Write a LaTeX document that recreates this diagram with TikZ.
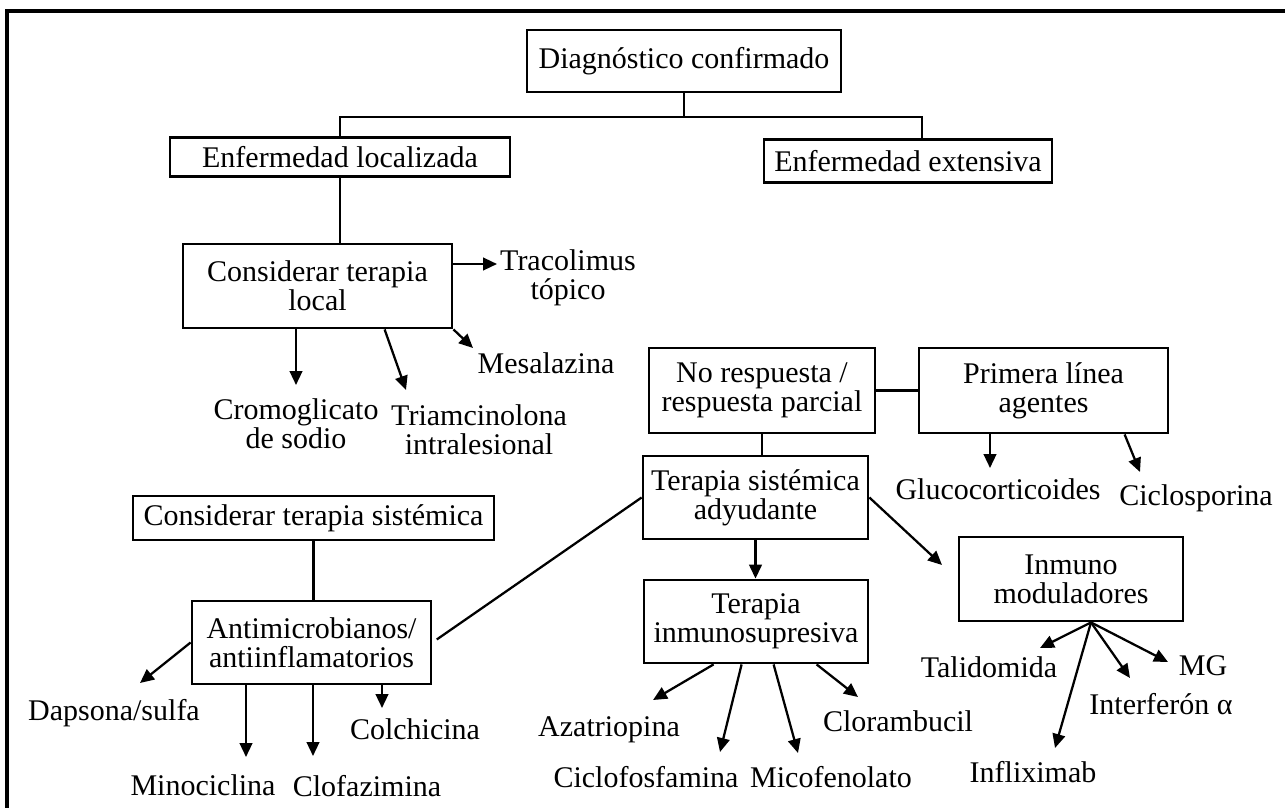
\documentclass[tikz,border=0pt]{standalone}
\usepackage{fontspec}
\setmainfont{Liberation Serif}
\usetikzlibrary{arrows.meta, positioning, calc}
\newcommand{\diagfont}{\fontsize{22.5pt}{21.5pt}\selectfont}
\tikzset{
  every picture/.style={line width=1.7pt, x=0.75pt, y=-0.75pt},
  box/.style 2 args={draw, line width=2.1pt, align=center, inner sep=0pt, font=\diagfont,
    minimum width=#1*0.75pt, minimum height=#2*0.75pt},
  lab/.style={align=center, inner sep=0pt, font=\diagfont},
  arr/.style={-{Triangle[length=10.5pt, width=9.5pt]}},
  frame/.style={line width=3pt},
}
\begin{document}
\begin{tikzpicture}
  \useasboundingbox (0,0) rectangle (1285,808);
  \coordinate (fcorner) at (7,11);
  \coordinate (fright) at (1285,11);
  \coordinate (fbottom) at (7,808);
  \draw[frame] (fright) -- (fcorner) -- (fbottom);
  % top of the tree
  \node[box={314}{62}] (diag) at (684,61) {Diagnóstico confirmado};
  \node[box={340}{39}] (loc) at (340,157) {Enfermedad localizada};
  \node[box={288}{43}] (ext) at (908,161) {Enfermedad extensiva};
  \coordinate (bus) at (684,117);
  \draw (diag.south) -- (bus);
  \draw (loc.north) |- (bus) -| ([xshift=10.5pt]ext.north);
  % local therapy
  \node[box={269}{84}] (ctl) at (317.5,286) {Considerar terapia\\local};
  \draw (loc.south) -- (loc.south |- ctl.north);
  \node[lab] (trac) at (568,278) {Tracolimus\\tópico};
  \node[lab] (mesa) at (546,363) {Mesalazina};
  \node[lab] (crom) at (296,424) {Cromoglicato\\de sodio};
  \node[lab] (tria) at (479,430) {Triamcinolona\\intralesional};
  \coordinate (tTrac) at (497,264);
  \coordinate (tMesa) at (473,348);
  \coordinate (tCrom) at (296,385);
  \coordinate (tTria) at (406,390);
  \draw[arr] (ctl.east |- tTrac) -- (tTrac);
  \draw[arr] (ctl.south east) -- (tMesa);
  \draw[arr] (ctl.south -| tCrom) -- (tCrom);
  \draw[arr] ($(ctl.south west)+(203,0)$) -- (tTria);
  % systemic therapy
  \node[box={361}{44}] (cts) at (313.5,518) {Considerar terapia sistémica};
  \draw ($(ctl.south west)+(13,0)$) -- ($(ctl.south west)+(13,0)$ |- cts.north);
  \node[box={239}{83}] (anti) at (311.5,642.5) {Antimicrobianos/\\antiinflamatorios};
  \draw (cts.south) -- (cts.south |- anti.north);
  \node[lab] (daps) at (114,713) {Dapsona/sulfa};
  \node[lab] (mino) at (203,785) {Minociclina};
  \node[lab] (clof) at (367,786) {Clofazimina};
  \node[lab] (colc) at (415,729) {Colchicina};
  \coordinate (tDaps) at (140,683);
  \coordinate (tMino) at (246,757);
  \coordinate (tClof) at (313,756);
  \coordinate (tColc) at (382,708);
  \draw[arr] (anti.west) -- (tDaps);
  \draw[arr] (anti.south -| tMino) -- (tMino);
  \draw[arr] (anti.south -| tClof) -- (tClof);
  \draw[arr] (anti.south -| tColc) -- (tColc);
  % no response branch
  \node[box={226}{85}] (nor) at (762,390.5) {No respuesta /\\respuesta parcial};
  \node[box={249}{85}] (pla) at (1043.5,390.5) {Primera línea\\agentes};
  \draw (nor.east) -- (pla.west);
  \node[lab] (gluc) at (998,489) {Glucocorticoides};
  \node[lab] (cicl) at (1196,498) {Ciclosporina};
  \coordinate (tGluc) at (990,468);
  \coordinate (tCicl) at (1140,472);
  \draw[arr] (pla.south -| tGluc) -- (tGluc);
  \draw[arr] ($(pla.south west)+(207,0)$) -- (tCicl);
  \node[box={225}{83}] (tsa) at (755.5,497.5) {Terapia sistémica\\adyudante};
  \draw (nor.south) -- (nor.south |- tsa.north);
  \draw[shorten <=4pt] (anti.east) -- (tsa.west);
  \node[box={224}{83}] (tis) at (756,621.5) {Terapia\\inmunosupresiva};
  \draw[arr] (tsa.south) -- (tsa.south |- tis.north);
  \node[box={224}{84}] (imm) at (1071,579) {Inmuno\\moduladores};
  \coordinate (tImm) at (942,565);
  \draw[arr] (tsa.east) -- (tImm);
  % immunosuppressants
  \node[lab] (azat) at (609,730) {Azatriopina};
  \node[lab] (cicf) at (646,777) {Ciclofosfamina};
  \node[lab] (mico) at (831,777) {Micofenolato};
  \node[lab] (clor) at (898,721) {Clorambucil};
  \coordinate (tAzat) at (653,700);
  \coordinate (tCicf) at (720,752);
  \coordinate (tMico) at (798,753);
  \coordinate (tClor) at (858,697);
  \draw[arr] ($(tis.south west)+(71,0)$) -- (tAzat);
  \draw[arr] ($(tis.south west)+(99,0)$) -- (tCicf);
  \draw[arr] ($(tis.south west)+(131,0)$) -- (tMico);
  \draw[arr] ($(tis.south west)+(174,0)$) -- (tClor);
  % immunomodulators
  \node[lab] (tali) at (989,667) {Talidomida};
  \node[lab] (mg) at (1203,666) {MG};
  \node[lab] (intf) at (1161,704) {Interferón α};
  \node[lab] (infl) at (1033,772) {Infliximab};
  \coordinate (fan) at ($(imm.south)+(20,0)$);
  \coordinate (tTali) at (1040,648);
  \coordinate (tInfl) at (1055,748);
  \coordinate (tIntf) at (1130,678);
  \coordinate (tMG) at (1168,662);
  \foreach \t in {tTali, tInfl, tIntf, tMG}
    \draw[arr] (fan) -- (\t);
\end{tikzpicture}
\end{document}
